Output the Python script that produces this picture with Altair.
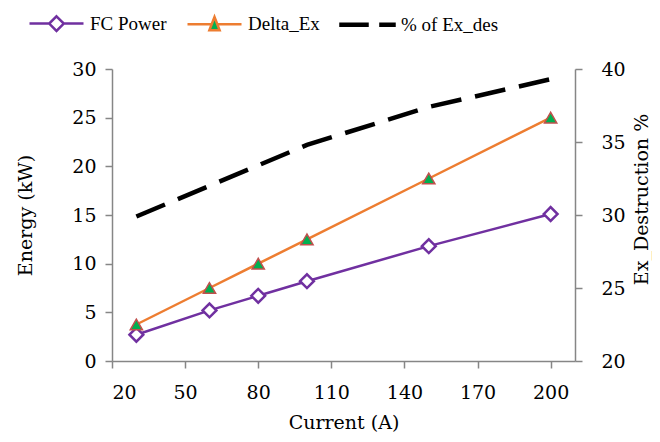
import altair as alt
import pandas as pd

current = [30, 60, 80, 100, 150, 200]
fc_power = [2.7, 5.2, 6.7, 8.2, 11.8, 15.1]
delta_ex = [3.75, 7.5, 10.0, 12.5, 18.75, 25.0]
pct_ex_des = [29.9, 32.0, 33.4, 34.8, 37.4, 39.3]

series_names = ["FC Power", "Delta_Ex", "% of Ex_des"]
x_ticks = [20, 50, 80, 110, 140, 170, 200]
left_ticks = [0, 5, 10, 15, 20, 25, 30]
right_ticks = [20, 25, 30, 35, 40]

PURPLE = "#7030A0"
ORANGE = "#ED7D31"
GREEN = "#00B050"
RED = "#C0504D"
GRAY = "#868686"
FONT = "DejaVu Serif"
FS = 19

df = pd.DataFrame({"current": current, "fc": fc_power, "dex": delta_ex, "pct": pct_ex_des})
legend_df = pd.DataFrame({"series": series_names})

x = alt.X("current:Q", scale=alt.Scale(domain=[20, 210], nice=False, zero=False),
          axis=alt.Axis(values=x_ticks, title="Current (A)", grid=False, labelPadding=15,
                        titleY=61, titleBaseline="middle"))

yleft_scale = alt.Scale(domain=[0, 30], nice=False)
yleft_axis = alt.Axis(values=left_ticks, title="Energy (kW)", grid=False, orient="left",
                      labelPadding=9, titleX=-87, titleY=146, titleAngle=270,
                      titleBaseline="middle", titleAlign="center")

base = alt.Chart(df)

fc_line = base.mark_line(color=PURPLE, strokeWidth=2.5).encode(
    x=x, y=alt.Y("fc:Q", scale=yleft_scale, axis=yleft_axis))
fc_pts = base.mark_point(shape="diamond", size=190, filled=False, fill="white",
                         stroke=PURPLE, strokeWidth=2.5, opacity=1).encode(
    x="current:Q", y="fc:Q")
dex_line = base.mark_line(color=ORANGE, strokeWidth=2.5).encode(x="current:Q", y="dex:Q")
dex_pts = base.mark_point(shape="triangle-up", size=150, filled=True, fill=GREEN,
                          stroke=RED, strokeWidth=1.5, opacity=1).encode(
    x="current:Q", y="dex:Q")

paths = [
    "M-1,0H-0.27M0.27,0H1M0,-0.27L0.27,0L0,0.27L-0.27,0Z",
    "M-1,0H-0.11M0.11,0H1M0,-0.27L0.19,0.22L-0.19,0.22Z",
    "M-1,-0.035H0V0.035H-1ZM0.48,-0.035H1V0.035H0.48Z",
]

legend_layer = alt.Chart(legend_df).mark_point(size=2916, strokeWidth=2.5, opacity=1).encode(
    shape=alt.Shape("series:N", title=None,
                    scale=alt.Scale(domain=series_names, range=paths)),
    stroke=alt.Stroke("series:N", title=None,
                      scale=alt.Scale(domain=series_names, range=[PURPLE, ORANGE, "black"])),
    fill=alt.Fill("series:N", title=None,
                  scale=alt.Scale(domain=series_names, range=["white", GREEN, "black"])),
).transform_filter("false")

left = alt.layer(fc_line, fc_pts, dex_line, dex_pts, legend_layer)

right = base.mark_line(color="black", strokeWidth=4.5, strokeDash=[31, 14]).encode(
    x="current:Q",
    y=alt.Y("pct:Q", scale=alt.Scale(domain=[20, 40], nice=False, zero=False),
            axis=alt.Axis(values=right_ticks, title="Ex_Destruction %", grid=False,
                          orient="right", labelPadding=19, titleX=66, titleY=130,
                          titleAngle=270, titleBaseline="middle", titleAlign="center")))

chart = alt.layer(left, right).resolve_scale(y="independent").properties(
    width=463, height=292,
    autosize=alt.AutoSizeParams(type="none"),
    padding={"left": 104, "top": 61, "right": 77, "bottom": 72},
).configure_view(stroke=None).configure_axis(
    labelFont=FONT, labelFontSize=FS, labelColor="black",
    titleFont=FONT, titleFontSize=FS, titleColor="black", titleFontWeight="normal",
    domainColor=GRAY, domainWidth=1.5, tickColor=GRAY, tickWidth=1.5, tickSize=7,
).configure_legend(
    orient="none", legendX=-84, legendY=-74, direction="horizontal",
    labelFont="Liberation Serif", labelFontSize=19, labelColor="black", symbolSize=2916,
    symbolStrokeWidth=2.5, columnPadding=15, labelOffset=5, padding=0,
)

chart.save("out.html", embed_options={"renderer": "svg", "actions": False})
